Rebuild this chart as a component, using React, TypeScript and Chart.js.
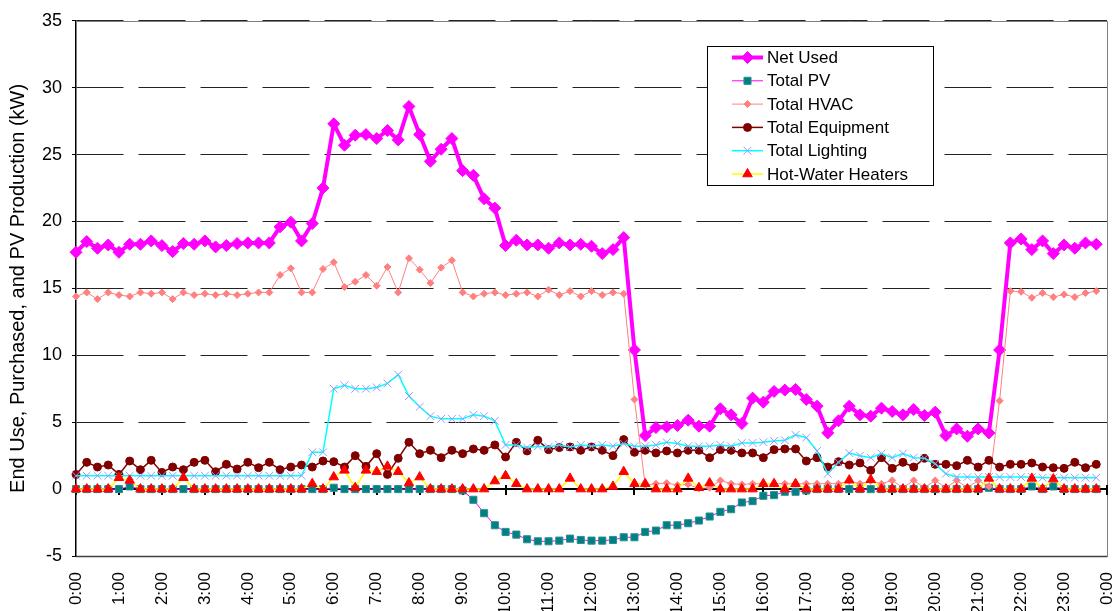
import { useEffect, useRef } from "react";
import { Chart, registerables } from "chart.js";
import { drawPoint } from "chart.js/helpers";

Chart.register(...registerables);

const categories: string[] = [
  "0:00","0:15","0:30","0:45","1:00","1:15","1:30","1:45","2:00","2:15","2:30","2:45",
  "3:00","3:15","3:30","3:45","4:00","4:15","4:30","4:45","5:00","5:15","5:30","5:45",
  "6:00","6:15","6:30","6:45","7:00","7:15","7:30","7:45","8:00","8:15","8:30","8:45",
  "9:00","9:15","9:30","9:45","10:00","10:15","10:30","10:45","11:00","11:15","11:30","11:45",
  "12:00","12:15","12:30","12:45","13:00","13:15","13:30","13:45","14:00","14:15","14:30","14:45",
  "15:00","15:15","15:30","15:45","16:00","16:15","16:30","16:45","17:00","17:15","17:30","17:45",
  "18:00","18:15","18:30","18:45","19:00","19:15","19:30","19:45","20:00","20:15","20:30","20:45",
  "21:00","21:15","21:30","21:45","22:00","22:15","22:30","22:45","23:00","23:15","23:30","23:45",
  "0:00"
];

const yTicks = { min: -5, max: 35, step: 5 };

const netUsed: number[] = [
  17.7, 18.5, 18.0, 18.25, 17.7, 18.3, 18.3, 18.55, 18.2, 17.75, 18.35, 18.3,
  18.55, 18.1, 18.2, 18.35, 18.4, 18.4, 18.4, 19.6, 19.95, 18.55, 19.85, 22.5,
  27.3, 25.7, 26.45, 26.5, 26.2, 26.8, 26.1, 28.6, 26.5, 24.5, 25.4, 26.2,
  23.8, 23.45, 21.7, 21.0, 18.2, 18.6, 18.25, 18.25, 18.0, 18.4, 18.25, 18.3,
  18.15, 17.6, 17.9, 18.8, 10.4, 4.0, 4.6, 4.65, 4.75, 5.15, 4.7, 4.7,
  6.0, 5.55, 4.9, 6.8, 6.5, 7.3, 7.4, 7.45, 6.7, 6.2, 4.2, 5.1,
  6.2, 5.55, 5.45, 6.05, 5.8, 5.55, 5.95, 5.5, 5.75, 4.0, 4.5, 3.95,
  4.5, 4.2, 10.4, 18.4, 18.7, 17.9, 18.55, 17.6, 18.25, 18.0, 18.4, 18.3
];

const totalPV: number[] = [
  0, 0, 0, 0, 0, 0.2, 0, 0, 0, 0, 0, 0,
  0, 0, 0, 0, 0, 0, 0, 0, 0, 0, 0, 0,
  0.1, 0, 0, 0, 0, 0, 0, 0, 0, 0, 0, 0,
  -0.1, -0.8, -1.8, -2.7, -3.2, -3.4, -3.75, -3.9, -3.9, -3.85, -3.7, -3.8,
  -3.85, -3.85, -3.8, -3.6, -3.6, -3.2, -3.1, -2.7, -2.7, -2.55, -2.35, -2.05,
  -1.7, -1.5, -1.0, -0.9, -0.5, -0.45, -0.2, -0.2, -0.1, 0, 0, 0,
  0, 0, 0, 0, 0, 0, 0, 0, 0, 0, 0, 0,
  0, 0.1, 0, 0, 0, 0.2, 0, 0.2, 0, 0, 0, 0
];

const totalHVAC: number[] = [
  14.4, 14.7, 14.2, 14.7, 14.5, 14.4, 14.7, 14.6, 14.7, 14.2, 14.7, 14.5,
  14.6, 14.5, 14.6, 14.5, 14.6, 14.7, 14.7, 16.0, 16.5, 14.7, 14.7, 16.45,
  16.95, 15.1, 15.5, 16.0, 15.2, 16.6, 14.7, 17.25, 16.4, 15.4, 16.55, 17.1,
  14.7, 14.4, 14.6, 14.7, 14.5, 14.6, 14.7, 14.4, 14.9, 14.5, 14.8, 14.4,
  14.8, 14.5, 14.7, 14.6, 6.7, 0.3, 0.4, 0.45, 0.3, 0.35, 0.05, 0.1,
  0.65, 0.4, 0.35, 0.4, 0.4, 0.4, 0.4, 0.4, 0.4, 0.4, 0.4, 0.4,
  0.6, 0.4, 0.6, 0.4, 0.65, 0.1, 0.65, 0.1, 0.65, 0.1, 0.65, 0.1,
  0.65, 0.2, 6.6, 14.8, 14.75, 14.3, 14.65, 14.35, 14.55, 14.35, 14.65, 14.8
];

const totalEquipment: number[] = [
  1.1, 2.0, 1.65, 1.8, 1.1, 2.1, 1.45, 2.15, 1.25, 1.65, 1.45, 2.0,
  2.15, 1.3, 1.85, 1.5, 2.0, 1.6, 2.0, 1.45, 1.65, 1.8, 1.65, 2.1,
  2.05, 1.65, 2.5, 1.7, 2.65, 1.1, 2.3, 3.5, 2.65, 2.9, 2.35, 2.9,
  2.65, 3.0, 2.9, 3.3, 2.4, 3.5, 2.85, 3.65, 2.95, 3.1, 3.15, 2.9,
  3.15, 2.9, 2.5, 3.7, 2.75, 2.9, 2.7, 2.85, 2.7, 2.9, 2.9, 2.35,
  2.95, 2.9, 2.7, 2.7, 2.35, 2.95, 3.0, 3.0, 2.1, 2.35, 1.65, 2.05,
  1.8, 1.95, 1.4, 2.35, 1.55, 2.0, 1.65, 2.3, 1.85, 1.85, 1.75, 2.15,
  1.65, 2.15, 1.65, 1.85, 1.85, 1.95, 1.65, 1.6, 1.55, 2.0, 1.6, 1.85
];

const totalLighting: number[] = [
  1.0, 1.0, 1.0, 1.0, 1.0, 1.0, 1.0, 1.0, 1.0, 1.0, 1.0, 1.0,
  1.0, 1.0, 1.0, 1.0, 1.0, 1.0, 1.0, 1.0, 1.0, 1.0, 2.75, 2.75,
  7.5, 7.75, 7.5, 7.5, 7.6, 7.9, 8.55, 6.95, 6.15, 5.45, 5.25, 5.25,
  5.25, 5.55, 5.45, 5.1, 3.3, 3.3, 3.1, 3.2, 3.15, 3.3, 3.15, 3.3,
  3.2, 3.3, 3.2, 3.4, 3.2, 3.2, 3.3, 3.5, 3.4, 3.2, 3.2, 3.2,
  3.3, 3.2, 3.45, 3.45, 3.5, 3.6, 3.65, 4.05, 3.85, 2.85, 1.15, 2.0,
  2.7, 2.5, 2.35, 2.65, 2.35, 2.65, 2.35, 2.3, 1.9, 1.15, 0.9, 0.9,
  0.9, 0.9, 0.9, 0.9, 0.9, 0.9, 0.85, 0.85, 0.85, 0.85, 0.85, 0.85
];

const hotWater: number[] = [
  0, 0, 0, 0, 0.85, 0.65, 0, 0, 0, 0, 0.85, 0,
  0, 0, 0, 0, 0, 0, 0, 0, 0, 0, 0.4, 0,
  0.9, 1.4, 0.1, 1.4, 1.3, 1.7, 1.3, 0.45, 0.9, 0, 0, 0,
  0, 0, 0, 0.6, 1.0, 0.4, 0, 0, 0, 0, 0.8, 0,
  0, 0, 0.2, 1.3, 0.4, 0.4, 0, 0, 0, 0.8, 0.1, 0.45,
  0, 0, 0, 0, 0.4, 0.4, 0, 0.4, 0, 0, 0, 0,
  0.67, 0, 0.7, 0, 0, 0, 0, 0, 0, 0, 0, 0,
  0, 0.8, 0, 0, 0, 0.8, 0, 0.75, 0, 0, 0, 0
];

const seriesNames = [
  "Net Used",
  "Total PV",
  "Total HVAC",
  "Total Equipment",
  "Total Lighting",
  "Hot-Water Heaters",
];

const FONT = '"Liberation Sans", Arial, Helvetica, sans-serif';

const boxLegend = {
  id: "boxLegend",
  afterDatasetsDraw(chart: any) {
    const ctx = chart.ctx as CanvasRenderingContext2D;
    ctx.save();
    const bx = 707.5, by = 46.5, bw = 226, bh = 139;
    ctx.fillStyle = "#ffffff";
    ctx.fillRect(bx, by, bw, bh);
    ctx.strokeStyle = "#000000";
    ctx.lineWidth = 1;
    ctx.strokeRect(bx, by, bw, bh);
    chart.data.datasets.forEach((ds: any, k: number) => {
      const cy = 57.5 + k * 23.3;
      ctx.setLineDash([]);
      ctx.strokeStyle = ds.borderColor;
      ctx.lineWidth = ds.borderWidth;
      ctx.beginPath();
      ctx.moveTo(732, cy);
      ctx.lineTo(763, cy);
      ctx.stroke();
      ctx.fillStyle = ds.pointBackgroundColor;
      ctx.strokeStyle = ds.pointBorderColor;
      ctx.lineWidth = ds.pointBorderWidth;
      drawPoint(ctx, {
        pointStyle: ds.pointStyle,
        rotation: 0,
        radius: ds.pointRadius,
        borderWidth: ds.pointBorderWidth,
      } as any, 747.5, cy);
      ctx.fillStyle = "#000000";
      ctx.font = `17px ${FONT}`;
      ctx.textBaseline = "middle";
      ctx.textAlign = "left";
      ctx.fillText(ds.label, 767, cy + 1);
    });
    ctx.restore();
  },
};

const zeroAxis = {
  id: "zeroAxis",
  beforeDatasetsDraw(chart: any) {
    const { ctx, chartArea: a, scales } = chart;
    const y0 = Math.round(scales.y.getPixelForValue(0));
    ctx.save();
    ctx.setLineDash([]);
    ctx.strokeStyle = "#808080";
    ctx.lineWidth = 1;
    ctx.beginPath();
    ctx.moveTo(a.left, Math.round(a.top) + 0.5);
    ctx.lineTo(Math.round(a.right) + 0.5, Math.round(a.top) + 0.5);
    ctx.lineTo(Math.round(a.right) + 0.5, Math.round(a.bottom) + 0.5);
    ctx.stroke();
    ctx.strokeStyle = "#404040";
    ctx.lineWidth = 1.5;
    ctx.beginPath();
    ctx.moveTo(a.left, Math.round(a.bottom) + 0.5);
    ctx.lineTo(Math.round(a.right) + 0.5, Math.round(a.bottom) + 0.5);
    ctx.stroke();
    ctx.strokeStyle = "#000000";
    ctx.lineWidth = 2;
    ctx.beginPath();
    ctx.moveTo(a.left, y0);
    ctx.lineTo(a.right, y0);
    for (let i = 0; i < categories.length; i += 4) {
      const x = Math.round(scales.x.getPixelForValue(i));
      ctx.moveTo(x, y0 - 4);
      ctx.lineTo(x, y0 + 6);
    }
    ctx.stroke();
    ctx.restore();
  },
};

export default function App() {
  const canvasRef = useRef<HTMLCanvasElement | null>(null);

  useEffect(() => {
    if (!canvasRef.current) return;
    const mk = (
      k: number,
      data: number[],
      line: string,
      lw: number,
      style: string,
      r: number,
      fill: string,
      stroke: string,
      pbw: number
    ) => ({
      label: seriesNames[k],
      data,
      borderColor: line,
      borderWidth: lw,
      backgroundColor: fill,
      pointStyle: style,
      pointRadius: r,
      pointBackgroundColor: fill,
      pointBorderColor: stroke,
      pointBorderWidth: pbw,
      pointHoverRadius: r,
      tension: 0,
      fill: false,
      order: 6 - k,
    });

    const chart = new Chart(canvasRef.current, {
      type: "line",
      data: {
        labels: categories,
        datasets: [
          mk(0, netUsed, "#FF00FF", 4, "rectRot", 6, "#FF00FF", "#FF00FF", 1),
          mk(1, totalPV, "#FF00FF", 1, "rect", 5, "#008080", "#2A9090", 1),
          mk(2, totalHVAC, "#FF8080", 1, "rectRot", 3.5, "#FF8080", "#FF8080", 1),
          mk(3, totalEquipment, "#800000", 1.5, "circle", 4, "#800000", "#800000", 1),
          mk(4, totalLighting, "#00FFFF", 1.5, "crossRot", 5.5, "#9999FF", "#9999FF", 1),
          mk(5, hotWater, "#FFFF00", 1.5, "triangle", 5.5, "#FF0000", "#FF0000", 1),
        ] as any,
      },
      options: {
        animation: false,
        responsive: false,
        devicePixelRatio: 1,
        events: [],
        layout: { padding: { top: 19, right: 10, left: 0, bottom: 0 } },
        plugins: {
          legend: { display: false },
          tooltip: { enabled: false },
        },
        scales: {
          x: {
            type: "category",
            offset: false,
            grid: { display: false, drawTicks: false },
            border: { display: false },
            ticks: {
              autoSkip: false,
              maxRotation: 90,
              minRotation: 90,
              padding: 16,
              color: "#000000",
              font: { family: FONT, size: 17, lineHeight: 1 },
              callback: (_v: any, i: number) => (i % 4 === 0 ? categories[i] : ""),
            },
            afterFit: (s: any) => {
              s.height = 55;
              s.paddingLeft = 0;
              s.paddingRight = 0;
            },
          },
          y: {
            min: yTicks.min,
            max: yTicks.max,
            ticks: {
              stepSize: yTicks.step,
              padding: 10,
              color: "#000000",
              font: { family: FONT, size: 18 },
            },
            grid: {
              color: (c: any) => (c.tick && c.tick.value === 0 ? "rgba(0,0,0,0)" : "#222222"),
              lineWidth: 1,
              tickLength: 4,
              tickColor: "#000000",
              tickBorderDash: [],
              borderDash: [47, 15],
            } as any,
            border: { display: true, color: "#000000", width: 1.5, dash: [47, 15] } as any,
            title: {
              display: true,
              text: "End Use, Purchased, and PV Production (kW)",
              color: "#000000",
              font: { family: FONT, size: 20 },
              padding: { top: 6, bottom: 0 },
            },
            afterFit: (s: any) => {
              s.width = 76;
            },
          },
        },
      } as any,
      plugins: [zeroAxis, boxLegend],
    });
    return () => chart.destroy();
  }, []);

  return (
    <div style={{ position: "fixed", left: 0, top: 0, width: 1117, height: 611, background: "#ffffff" }}>
      <canvas ref={canvasRef} width={1117} height={611} />
    </div>
  );
}
